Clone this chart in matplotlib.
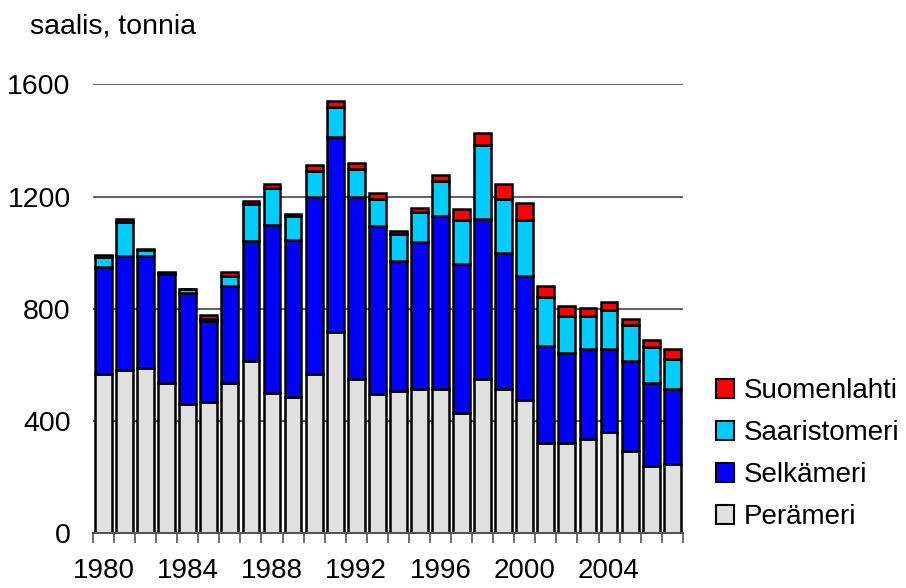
import matplotlib
matplotlib.use("Agg")
import matplotlib.pyplot as plt
import numpy as np

plt.rcParams['font.family'] = ['Liberation Sans', 'DejaVu Sans']

years = list(range(1980, 2008))
peramer = [568, 582, 588, 535, 461, 467, 535, 615, 501, 487,
           568, 716, 549, 495, 508, 514, 514, 428, 549, 514,
           475, 321, 321, 335, 362, 295, 241, 247]
selkameri = [382, 408, 400, 389, 397, 291, 348, 428, 597, 557,
             632, 697, 651, 602, 463, 524, 618, 531, 570, 484,
             443, 348, 323, 322, 295, 320, 296, 269]
saaristomeri = [36, 121, 22, 3, 12, 5, 35, 130, 134, 88,
                93, 105, 100, 95, 95, 107, 125, 158, 266, 195,
                199, 174, 132, 119, 139, 128, 126, 105]
suomenlahti = [6, 8, 2, 4, 2, 14, 13, 13, 14, 7,
               20, 23, 20, 20, 13, 13, 21, 40, 41, 52,
               61, 40, 34, 27, 30, 21, 27, 36]
series_names = ['Perämeri', 'Selkämeri', 'Saaristomeri', 'Suomenlahti']
series_colors = ['#E0E0E0', '#0000FF', '#00CCFF', '#FF0000']
yticks = [0, 400, 800, 1200, 1600]

FS = 20.5

fig = plt.figure(figsize=(9.06, 5.88), dpi=100)
ax = fig.add_axes([0.1026, 0.093, 0.651, 0.7635])

x = np.arange(len(years))
bottom = np.zeros(len(years))
handles = []
for vals, name, col in zip([peramer, selkameri, saaristomeri, suomenlahti], series_names, series_colors):
    b = ax.bar(x, vals, width=0.8, bottom=bottom, color=col, edgecolor='black',
               linewidth=1.8, label=name, zorder=3)
    handles.append(b)
    bottom += np.array(vals)

ax.set_xlim(-0.5, len(years) - 0.5)
ax.set_ylim(0, 1600)
ax.set_yticks(yticks)
ax.set_yticklabels([str(v) for v in yticks], fontsize=FS)
ax.yaxis.grid(True, color='#666666', linewidth=1.5, zorder=0)
ax.tick_params(axis='y', length=0, pad=16)

ax.set_xticks(x[::4])
ax.set_xticklabels([str(y) for y in years[::4]], fontsize=20)
ax.set_xticks(np.arange(-0.5, len(years), 1.0), minor=True)
ax.tick_params(axis='x', which='major', length=0, pad=18)
ax.tick_params(axis='x', which='minor', length=7, width=1.2, color='#555555', direction='out')

for s in ['top', 'right', 'left']:
    ax.spines[s].set_visible(False)
ax.spines['bottom'].set_color('#555555')
ax.spines['bottom'].set_linewidth(1.5)
ax.spines['bottom'].set_zorder(4)

fig.text(0.033, 0.977, 'saalis, tonnia', fontsize=FS, ha='left', va='top')

leg = fig.legend(handles[::-1], series_names[::-1], loc='upper left',
                 bbox_to_anchor=(0.778, 0.376), frameon=False, fontsize=20,
                 handlelength=0.65, handleheight=0.65, handletextpad=0.35,
                 labelspacing=0.58, borderaxespad=0)
for h in leg.legend_handles:
    h.set_linewidth(1.5)

fig.savefig('out.png', dpi=100)
